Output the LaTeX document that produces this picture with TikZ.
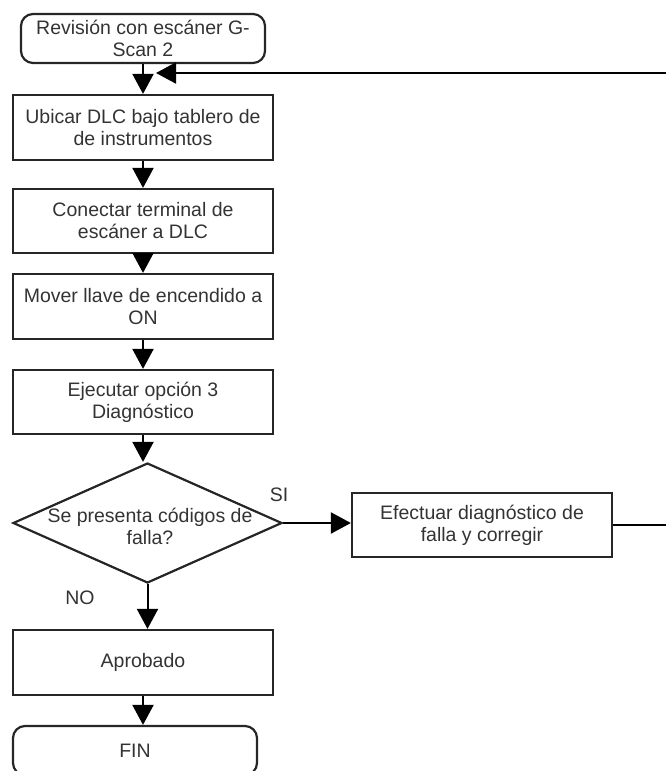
\documentclass[tikz,border=0pt]{standalone}
\usepackage{fontspec}
\setmainfont{Liberation Sans}
\usetikzlibrary{shapes.geometric,arrows.meta}
\definecolor{ink}{HTML}{262626}
\definecolor{txt}{HTML}{333333}
\begin{document}
\begin{tikzpicture}[x=1pt,y=-1pt,
  every node/.style={font=\fontsize{19.5}{22}\selectfont, text=txt, align=center, inner sep=0pt},
  procbox/.style={draw=ink, line width=2.2pt, minimum width=260pt},
  termbox/.style={draw=ink, line width=2.2pt, rounded corners=12pt},
  decision/.style={draw=ink, line width=2.2pt, shape=diamond, minimum width=269pt, minimum height=120pt},
  flow/.style={draw=black, line width=2pt, -{Triangle[length=20pt,width=21pt]}},
  plainline/.style={draw=black, line width=2pt}]
\useasboundingbox (0,0) rectangle (665,771);

% terminals
\node[termbox, minimum width=244pt, minimum height=49pt] (start) at (143,38.5)
  {Revisión con escáner G-\\Scan 2};
\node[termbox, minimum width=244pt, minimum height=49pt] (fin) at (135,750.5) {FIN};

% process steps
\node[procbox, minimum height=65pt] (ubicar) at (143,127.5)
  {Ubicar DLC bajo tablero de\\de instrumentos};
\node[procbox, minimum height=64pt] (conectar) at (143,221)
  {Conectar terminal de\\escáner a DLC};
\node[procbox, minimum height=65pt] (mover) at (143,306.5)
  {Mover llave de encendido a\\ON};
\node[procbox, minimum height=64pt] (ejecutar) at (143,402)
  {Ejecutar opción 3\\Diagnóstico};
\node[decision] (codigos) at (147.5,523) {};
\node at (150,526) {Se presenta códigos de\\falla?};
\node[procbox, minimum height=64pt] (efectuar) at (482,525)
  {Efectuar diagnóstico de\\falla y corregir};
\node[procbox, minimum height=65pt] (aprobado) at (143,662.5) {Aprobado};

% branch labels
\node (si) at (279,495) {SI};
\node (no) at (80,598) {NO};

% return path
\coordinate (loopA) at (668,525);
\coordinate (loopB) at (668,73);
\coordinate (loopEnd) at (156,73);

% connectors
\path[flow] (start.south) -- (ubicar.north);
\path[flow] (ubicar.south) -- (conectar.north);
\path[flow] (conectar.south) -- (mover.north);
\path[flow] (mover.south) -- (ejecutar.north);
\path[flow] (ejecutar.south) -- (ejecutar.south |- codigos.north);
\path[flow] (codigos.east) -- (efectuar.west |- codigos.east);
\path[flow] (codigos.south) -- (codigos.south |- aprobado.north);
\path[flow] (aprobado.south) -- (aprobado.south |- fin.north);
\path[flow] (efectuar.east) -- (loopA) -- (loopB) -- (loopEnd);
\end{tikzpicture}
\end{document}
